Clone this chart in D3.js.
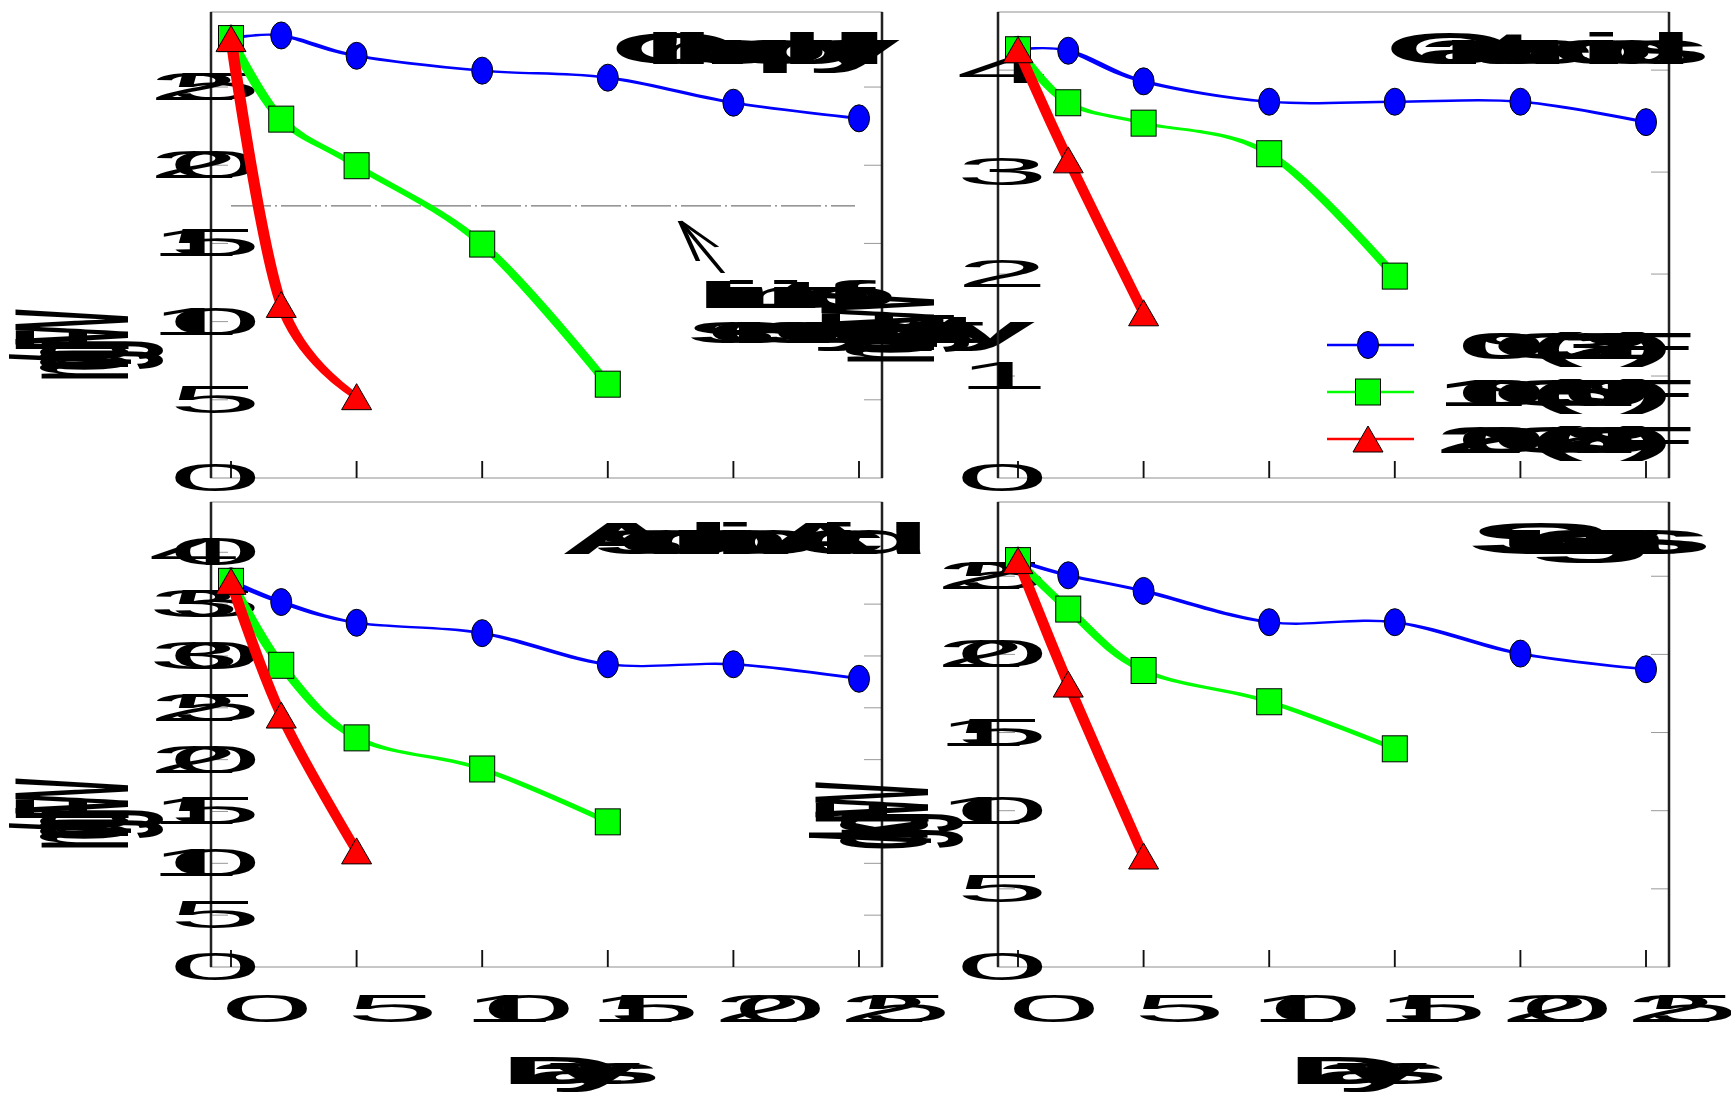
<!DOCTYPE html>
<html><head><meta charset="utf-8">
<script src="https://cdn.jsdelivr.net/npm/d3@7"></script>
<style>html,body{margin:0;padding:0;background:#fff}svg{display:block}</style>
</head><body>
<svg id="chart" width="1731" height="1095"></svg>
<script>
// ---------------- data ----------------
const days = [0, 2, 5, 10, 15, 20, 25];
const xTicks = [0, 5, 10, 15, 20, 25];
const temps = ["0°C (32°F)", "10°C (50°F)", "20°C (68°F)"];
const titles = ["Chlorophyll", "Carotenoids", "Ascorbic Acid", "Sugars"];
const yLabels = ["mg/g FW", "mg/g FW", "mg/g FW", "g/kg FW"];
const xLabel = "Days";

const chl0  = [28.1, 28.3, 27.0, 26.05, 25.6, 24.0, 23.0];
const chl10 = [28.1, 22.95, 19.97, 14.96, 6.0];
const chl20 = [28.1, 11.1, 5.2];
const car0  = [4.2, 4.19, 3.89, 3.69, 3.69, 3.69, 3.49];
const car10 = [4.2, 3.68, 3.48, 3.18, 1.98];
const car20 = [4.2, 3.12, 1.62];
const asc0  = [37.2, 35.2, 33.2, 32.2, 29.2, 29.2, 27.8];
const asc10 = [37.2, 29.1, 22.1, 19.1, 14.0];
const asc20 = [37.2, 24.3, 11.2];
const sug0  = [26.0, 25.06, 24.06, 22.06, 22.06, 20.05, 19.05];
const sug10 = [26.0, 22.9, 18.97, 16.97, 13.96];
const sug20 = [26.0, 18.1, 7.1];

const yMax = [29.8, 4.57, 44.85, 29.75];
const yTicks = [[0,5,10,15,20,25],[0,1,2,3,4],[0,5,10,15,20,25,30,35,40],[0,5,10,15,20,25]];
const limitValue = 17.4;
const annotation = ["Limit of", "sensory quality"];

// ---------------- style ----------------
const FONT = "'Liberation Sans', Arial, sans-serif";
const SX = 4.4;   // glyph stretch
const K = 4.2;    // stroke anisotropy
const FS = 38;
const colors = ["#0000ff", "#00ff00", "#ff0000"];
const lineW = [2.4, 2.6, 2.7];
const titleCfg = [{ sx: 3.9, dx: -28 }, { sx: 3.9, dx: -28 }, { sx: 3.9, dx: -28 }, { sx: 5.1, dx: -54 }];

const svg = d3.select("#chart");
const meas = d3.select("body").append("svg").attr("width", 1).attr("height", 1)
  .style("position", "absolute").style("left", "-10px").style("top", "-10px");

function measure(str, size, weight) {
  const t = meas.append("text").attr("font-family", FONT).attr("font-size", size)
    .attr("font-weight", weight).text(str);
  const n = t.node();
  const pos = [];
  for (let i = 0; i < str.length; i++) pos.push(n.getStartPositionOfChar(i).x);
  const w = n.getComputedTextLength();
  t.remove();
  return { pos, w };
}
function sText(parent, str, o) {
  const size = o.size || FS, weight = o.weight || "normal", sx = o.sx || SX, c = o.compress || 1;
  const m = measure(str, size, weight);
  const w = m.w * c;
  const off = o.anchor === "middle" ? -w / 2 : o.anchor === "end" ? -w : 0;
  const t = parent.append("text").attr("font-family", FONT).attr("font-size", size)
    .attr("font-weight", weight).attr("fill", "#000").text(str);
  if (!o.rotate) {
    t.attr("transform", `translate(${o.x + off},${o.y}) scale(${sx},1)`)
     .attr("x", m.pos.map(p => (p * c / sx).toFixed(2)).join(" ")).attr("y", 0);
  } else {
    t.attr("transform", `translate(${o.x},${o.y}) scale(${sx},1) rotate(-90)`)
     .attr("x", m.pos.map(p => (p * c + off).toFixed(2)).join(" ")).attr("y", 0);
  }
  return t;
}
function aPath(parent, d, stroke, w) {
  return parent.append("path").attr("transform", `scale(${K},1)`).attr("d", d)
    .attr("fill", "none").attr("stroke", stroke).attr("stroke-width", w)
    .attr("stroke-linejoin", "round").attr("stroke-linecap", "butt");
}
function seg(x1, y1, x2, y2) { return `M${x1 / K},${y1}L${x2 / K},${y2}`; }

function marker(g, kind, cx, cy) {
  if (kind === 0) {
    g.append("ellipse").attr("cx", cx).attr("cy", cy).attr("rx", 10.5).attr("ry", 13.5)
      .attr("fill", colors[0]).attr("stroke", "#000").attr("stroke-width", 1);
  } else if (kind === 1) {
    g.append("rect").attr("x", cx - 12.5).attr("y", cy - 13).attr("width", 25).attr("height", 26)
      .attr("fill", colors[1]).attr("stroke", "#000").attr("stroke-width", 1);
  } else {
    g.append("path").attr("d", `M${cx},${cy - 13}L${cx + 15},${cy + 13}L${cx - 15},${cy + 13}Z`)
      .attr("fill", colors[2]).attr("stroke", "#000").attr("stroke-width", 1);
  }
}

const panels = [
  { left: 211, right: 882, top: 12,  bottom: 478, series: [chl0, chl10, chl20], xl: false, labBottom: 381, labX: 128 },
  { left: 998, right: 1669, top: 12, bottom: 478, series: [car0, car10, car20], xl: false, labBottom: 364, labX: 934 },
  { left: 211, right: 882, top: 502, bottom: 967, series: [asc0, asc10, asc20], xl: true, labBottom: 850, labX: 128 },
  { left: 998, right: 1669, top: 502, bottom: 967, series: [sug0, sug10, sug20], xl: true, labBottom: 850, labX: 928 }
];

panels.forEach((p, i) => {
  const g = svg.append("g");
  const x = d3.scaleLinear().domain([0, 25]).range([p.left + 20, p.right - 23]);
  const y = d3.scaleLinear().domain([0, yMax[i]]).range([p.bottom, p.top]);

  yTicks[i].forEach(v => {
    if (v === 0) return;
    g.append("line").attr("x1", p.left).attr("x2", p.left + 17).attr("y1", y(v)).attr("y2", y(v))
      .attr("stroke", "#999").attr("stroke-width", 1);
    g.append("line").attr("x1", p.right - 18).attr("x2", p.right).attr("y1", y(v)).attr("y2", y(v))
      .attr("stroke", "#999").attr("stroke-width", 1);
  });
  xTicks.forEach(v => aPath(g, seg(x(v), p.bottom, x(v), p.bottom - 17), "#111", 0.45));
  aPath(g, `M${p.left / K},${p.top}L${p.right / K},${p.top}L${p.right / K},${p.bottom}L${p.left / K},${p.bottom}Z`, "#222", 0.6);

  yTicks[i].forEach(v => sText(g, String(v), { x: p.left - 21, y: y(v) + 13, anchor: "end" }));
  if (p.xl) {
    xTicks.forEach(v => sText(g, String(v), { x: x(v), y: p.bottom + 55, anchor: "middle" }));
    sText(g, xLabel, { x: (x(0) + x(25)) / 2, y: p.bottom + 117, anchor: "middle", weight: "bold" });
  }
  sText(g, titles[i], { x: p.right + titleCfg[i].dx, y: p.top + 52, anchor: "end", weight: "bold", size: 44, sx: titleCfg[i].sx });

  if (i === 0) {
    g.append("line").attr("x1", x(0)).attr("x2", x(25) - 4).attr("y1", y(limitValue)).attr("y2", y(limitValue))
      .attr("stroke", "#555").attr("stroke-width", 1).attr("stroke-dasharray", "40,4,2,4");
    const tip = [680, 221];
    aPath(g, seg(723, 273, tip[0], tip[1]), "#000", 1.1);
    aPath(g, seg(tip[0], tip[1], 698, 261), "#000", 1.1);
    aPath(g, seg(tip[0], tip[1], 717, 247), "#000", 1.1);
    sText(g, annotation[0], { x: 695, y: 308, weight: "bold" });
    sText(g, annotation[1], { x: 685, y: 343, weight: "bold" });
  }

  p.series.forEach((vals, s) => {
    const pts = vals.map((v, j) => [x(days[j]), y(v)]);
    const line = d3.line().x(d => d[0] / K).y(d => d[1]).curve(d3.curveCatmullRom.alpha(0));
    aPath(g, line(pts), colors[s], lineW[s]);
    pts.forEach(pt => marker(g, s, pt[0], pt[1]));
  });

  if (i === 1) {
    temps.forEach((t, s) => {
      const ly = 345 + s * 47;
      aPath(g, seg(1327, ly, 1414, ly), colors[s], lineW[s]);
      marker(g, s, 1368, ly);
      sText(g, t, { x: 1632, y: ly + 14, anchor: "end", size: 37, weight: "bold" });
    });
  }
});

panels.forEach((p, i) => {
  sText(svg, yLabels[i], { x: p.labX, y: p.labBottom, anchor: "start", rotate: true, size: 37, sx: 4.4, weight: "bold", compress: 0.3 });
});
</script>
</body></html>
